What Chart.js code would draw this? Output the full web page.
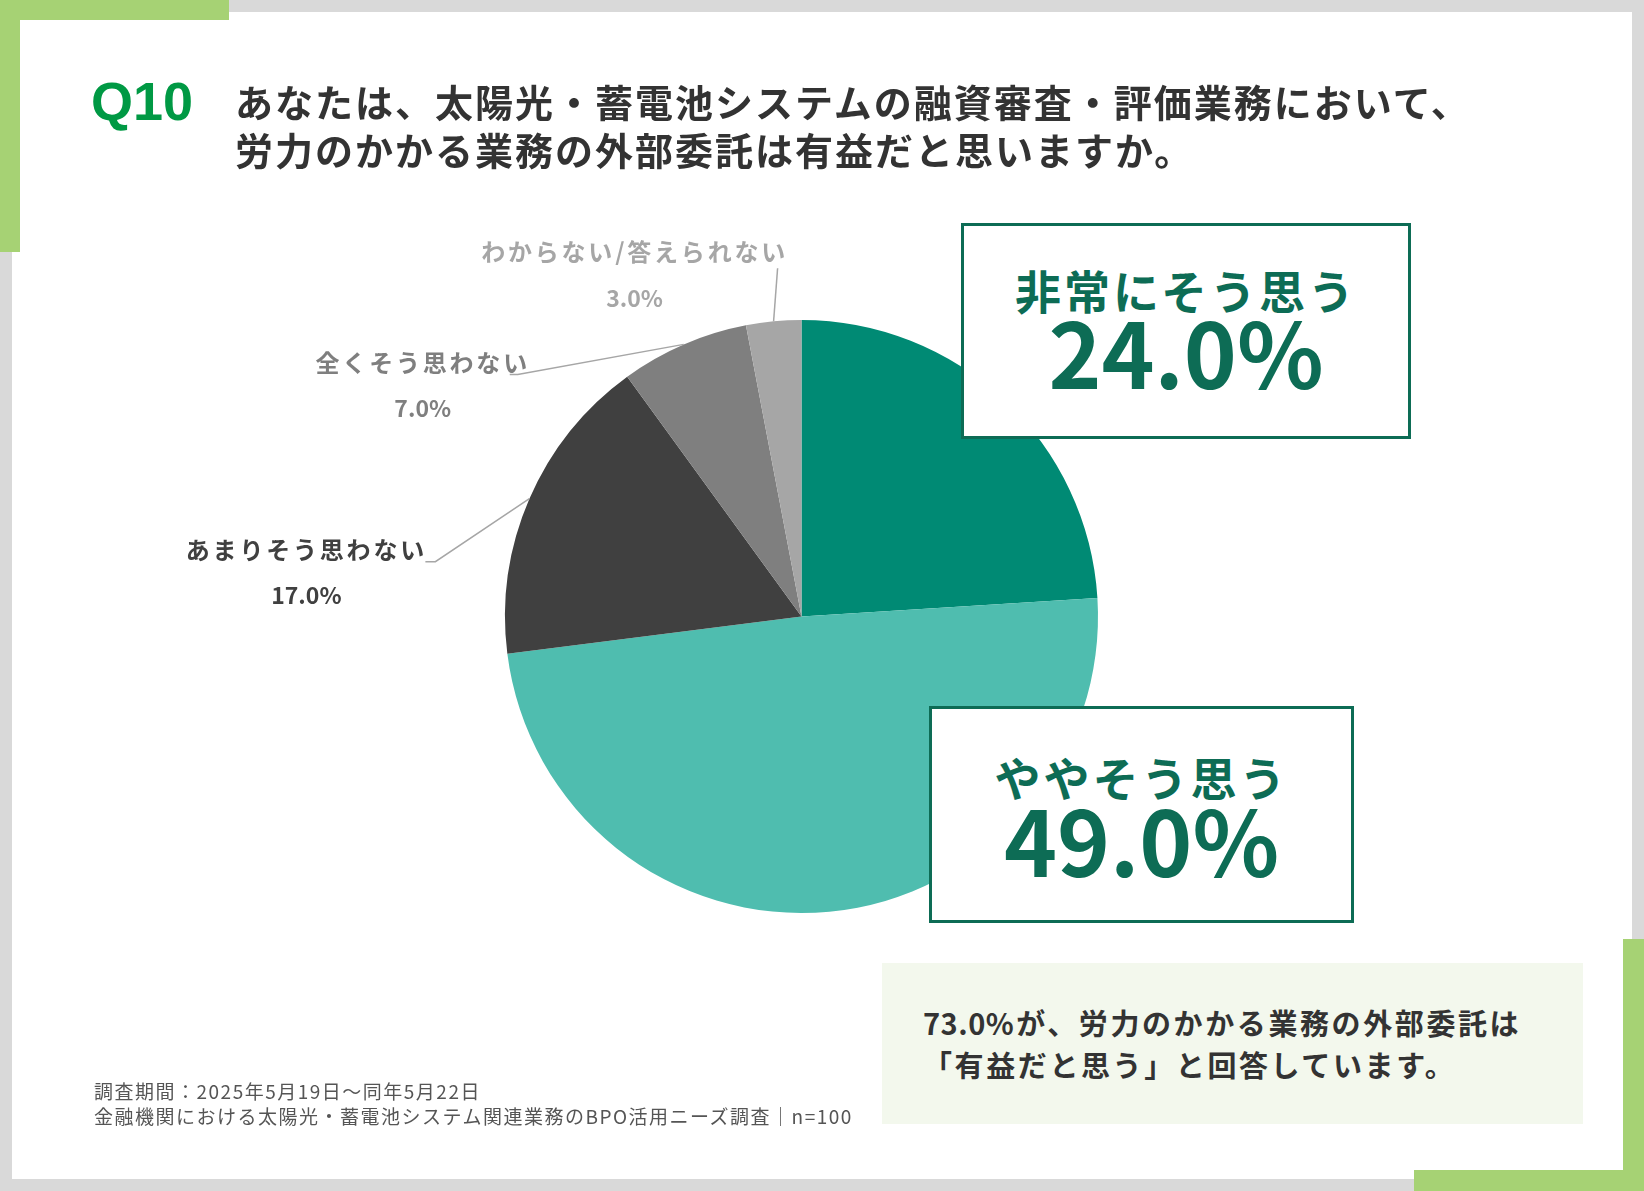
<!DOCTYPE html>
<html lang="ja">
<head>
<meta charset="utf-8">
<script src="https://cdn.jsdelivr.net/npm/chart.js@4.4.1/dist/chart.umd.min.js"></script>
<style>
  html, body { margin:0; padding:0; }
  body {
    width:1644px; height:1191px; overflow:hidden; position:relative;
    background:#d9d9d9;
    font-family:"Noto Sans CJK JP", "Noto Sans", sans-serif;
  }
  .panel { position:absolute; left:12px; top:12px; width:1620px; height:1167px; background:#fff; }
  .accent { position:absolute; background:#a6d274; }
  #pieChart { position:absolute; left:0; top:0; z-index:2; }
  .q { position:absolute; left:91px; top:74px; z-index:3; font-family:"Liberation Sans", Arial, sans-serif;
       font-weight:700; font-size:54px; line-height:1; color:#009944; }
  .title { position:absolute; left:235px; top:77px; z-index:3; font-weight:700; font-size:38px;
           line-height:48px; letter-spacing:2px; color:#333; white-space:nowrap; }
  .box { position:absolute; z-index:3; background:#fff; border:3.5px solid #0d6c55; box-sizing:border-box; }
  .box .lab, .box .val { position:absolute; left:0; width:100%; text-align:center; color:#0d6c55;
                         font-weight:700; line-height:1; white-space:nowrap; }
  .box .lab { font-size:46px; letter-spacing:3px; }
  .box .val { font-size:90px; letter-spacing:0px; }
  .summary { position:absolute; left:882px; top:963px; width:701px; height:161px; z-index:3; background:#f3f8ed; }
  .summary div { position:absolute; left:41px; font-weight:700; font-size:29px; line-height:1;
                 letter-spacing:2.6px; color:#333; white-space:nowrap; }
  .summary .num { letter-spacing:0.5px; margin-right:2px; }
  .foot { position:absolute; left:94px; top:1078px; z-index:3; font-size:19px; line-height:25px;
          letter-spacing:1.5px; color:#555; white-space:nowrap; }
</style>
</head>
<body>
<div class="panel"></div>
<div class="accent" style="left:0;top:0;width:229px;height:20px"></div>
<div class="accent" style="left:0;top:0;width:20px;height:252px"></div>
<div class="accent" style="left:1414px;top:1170px;width:230px;height:21px"></div>
<div class="accent" style="left:1623px;top:939px;width:21px;height:252px"></div>

<canvas id="pieChart" width="1644" height="1191"></canvas>

<div class="q">Q10</div>
<div class="title">あなたは、太陽光・蓄電池システムの融資審査・評価業務において、<br>労力のかかる業務の外部委託は有益だと思いますか。</div>

<div class="box" id="box0" style="left:961px;top:223px;width:450px;height:216px">
  <div class="lab" style="top:40px"></div>
  <div class="val" style="top:79px"></div>
</div>
<div class="box" id="box1" style="left:929px;top:706px;width:425px;height:217px">
  <div class="lab" style="top:44px"></div>
  <div class="val" style="top:84px"></div>
</div>

<div class="summary">
  <div id="sum1" style="top:45px"></div>
  <div id="sum2" style="top:87px">「有益だと思う」と回答しています。</div>
</div>

<div class="foot">調査期間：2025年5月19日〜同年5月22日<br>金融機関における太陽光・蓄電池システム関連業務のBPO活用ニーズ調査｜n=100</div>

<script>
// data
const categories = ["非常にそう思う", "ややそう思う", "あまりそう思わない", "全くそう思わない", "わからない/答えられない"];
const shares = [24.0, 49.0, 17.0, 7.0, 3.0];
const sliceColors = ["#008a74", "#4fbdaf", "#404040", "#7f7f7f", "#a6a6a6"];

// big boxes for the two positive answers
[0, 1].forEach(i => {
  const box = document.getElementById("box" + i);
  box.querySelector(".lab").textContent = categories[i];
  box.querySelector(".val").textContent = shares[i].toFixed(1) + "%";
});
document.getElementById("sum1").innerHTML =
  '<span class="num">' + (shares[0] + shares[1]).toFixed(1) + "%</span>が、労力のかかる業務の外部委託は";

// callouts for the small slices, offsets from the slice's outer mid point
const callouts = {
  2: { elbow:[-94, 63], tail:-10, text:[-223, 51], pct:[-223, 97], color:"#404040" },
  3: { elbow:[-166, 30], tail:-8, text:[-261, 18], pct:[-261, 64], color:"#7f7f7f" },
  4: { elbow:[4, -53], tail:0, text:[-139, -69], pct:[-139, -23], color:"#a6a6a6" }
};

const calloutPlugin = {
  id: "calloutPlugin",
  afterDraw(chart) {
    const { ctx } = chart;
    const meta = chart.getDatasetMeta(0);
    Object.keys(callouts).forEach(k => {
      const i = Number(k);
      const c = callouts[i];
      const arc = meta.data[i];
      const mid = (arc.startAngle + arc.endAngle) / 2;
      const ax = arc.x + Math.cos(mid) * arc.outerRadius;
      const ay = arc.y + Math.sin(mid) * arc.outerRadius;

      ctx.save();
      ctx.strokeStyle = "#a6a6a6";
      ctx.lineWidth = 1.5;
      ctx.beginPath();
      ctx.moveTo(ax, ay);
      ctx.lineTo(ax + c.elbow[0], ay + c.elbow[1]);
      if (c.tail) ctx.lineTo(ax + c.elbow[0] + c.tail, ay + c.elbow[1]);
      ctx.stroke();

      ctx.fillStyle = c.color;
      ctx.textAlign = "center";
      ctx.textBaseline = "middle";
      ctx.font = "bold 24px 'Noto Sans CJK JP'";
      ctx.letterSpacing = "2.8px";
      ctx.fillText(categories[i], ax + c.text[0], ay + c.text[1]);
      ctx.letterSpacing = "0px";
      ctx.font = "bold 23px 'Noto Sans CJK JP'";
      ctx.fillText(shares[i].toFixed(1) + "%", ax + c.pct[0], ay + c.pct[1]);
      ctx.restore();
    });
  }
};

new Chart(document.getElementById("pieChart"), {
  type: "pie",
  data: {
    labels: categories,
    datasets: [{
      data: shares,
      backgroundColor: sliceColors,
      borderWidth: 0
    }]
  },
  options: {
    responsive: false,
    animation: false,
    devicePixelRatio: 1,
    layout: { padding: { left: 505, right: 546, top: 320, bottom: 278 } },
    plugins: { legend: { display: false }, tooltip: { enabled: false } }
  },
  plugins: [calloutPlugin]
});
</script>
</body>
</html>
